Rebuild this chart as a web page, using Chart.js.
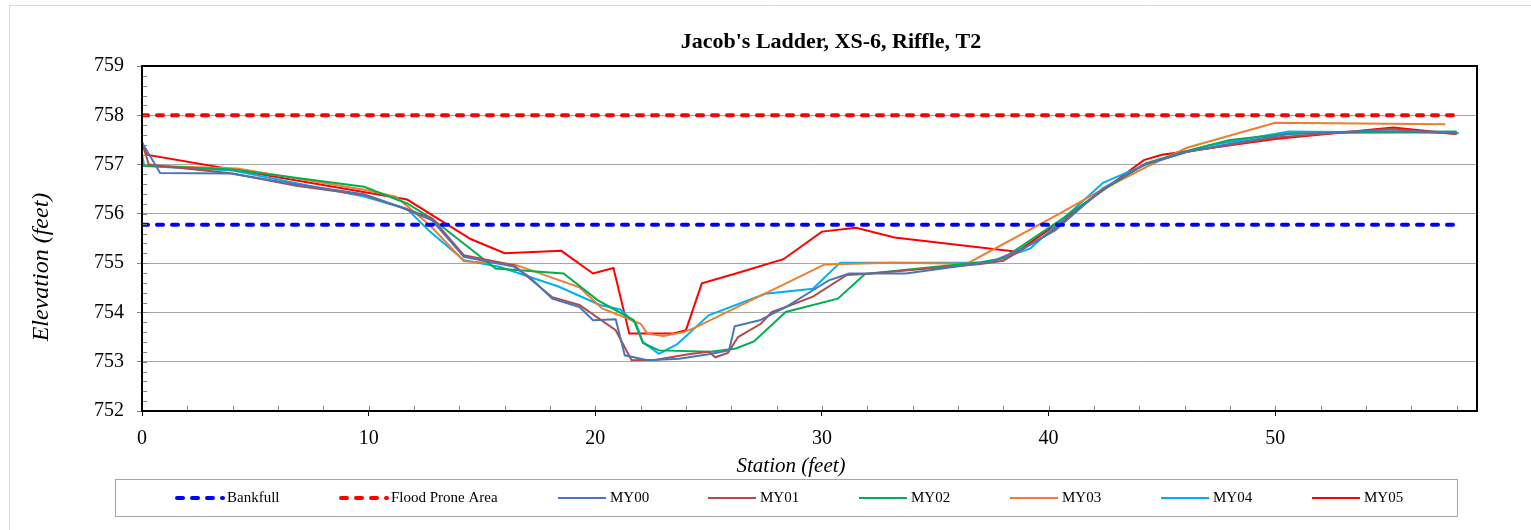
<!DOCTYPE html>
<html lang="en">
<head>
<meta charset="UTF-8">
<title>Jacob's Ladder, XS-6, Riffle, T2</title>
<script src="https://cdn.jsdelivr.net/npm/chart.js"></script>
<style>
  html, body { margin: 0; padding: 0; background: #fff; }
  #wrap { position: relative; width: 1531px; height: 530px; }
</style>
</head>
<body>
<div id="wrap"><canvas id="xsChart" width="1531" height="530"></canvas></div>
<script>
// Reference lines
const refSta = [0, 58.1];
const bankfullElev = [755.78, 755.78];
const floodElev = [758.0, 758.0];

// Survey years (station ft, elevation ft)
const my00Sta  = [0, 0.8, 3.9, 6.5, 9.8, 11.4, 12.8, 14.2, 16.4, 17.1, 18.1, 19.3, 19.9, 20.9, 21.3, 22.3, 23.7, 25.0, 25.9, 26.15, 27.25, 28.4, 29.6, 30.3, 31.2, 33.7, 37.0, 37.5, 39.0, 40.3, 42.4, 44.2, 46.0, 48.3, 50.6, 54.0, 58.0];
const my00Elev = [757.45, 756.83, 756.82, 756.62, 756.4, 756.14, 755.87, 755.13, 754.93, 754.72, 754.28, 754.11, 753.84, 753.86, 753.13, 753.03, 753.06, 753.15, 753.23, 753.72, 753.84, 754.11, 754.45, 754.65, 754.79, 754.79, 755.0, 755.03, 755.33, 755.67, 756.52, 756.99, 757.25, 757.45, 757.62, 757.68, 757.66];

const my01Sta  = [0, 0.3, 4.0, 6.8, 9.8, 11.4, 12.8, 14.2, 16.4, 18.1, 19.3, 20.9, 21.6, 22.7, 24.1, 25.0, 25.3, 25.85, 26.3, 27.3, 27.8, 28.4, 29.6, 31.1, 31.9, 37.0, 38.0, 40.0, 42.4, 44.2, 46.0, 50.0, 55.0, 58.0];
const my01Elev = [757.45, 757.0, 756.82, 756.57, 756.38, 756.14, 755.91, 755.16, 754.96, 754.31, 754.15, 753.64, 753.03, 753.04, 753.15, 753.2, 753.09, 753.18, 753.5, 753.77, 754.01, 754.11, 754.32, 754.76, 754.78, 754.98, 755.05, 755.6, 756.5, 757.0, 757.25, 757.55, 757.72, 757.62];

const my02Sta  = [0, 4.0, 9.8, 11.7, 12.8, 15.6, 18.6, 20.1, 21.7, 22.1, 22.8, 25.1, 26.2, 27.0, 28.4, 30.7, 31.9, 37.0, 38.0, 40.5, 42.4, 44.3, 46.3, 48.0, 50.6, 58.0];
const my02Elev = [756.98, 756.9, 756.55, 756.21, 755.9, 754.89, 754.79, 754.25, 753.84, 753.38, 753.23, 753.2, 753.27, 753.41, 754.01, 754.28, 754.78, 755.02, 755.1, 755.87, 756.48, 757.03, 757.3, 757.5, 757.63, 757.67];

const my03Sta  = [0, 4.2, 9.8, 11.2, 12.7, 14.2, 16.4, 19.3, 20.3, 22.0, 22.3, 23.0, 23.9, 24.4, 30.1, 33.1, 36.4, 40.5, 42.2, 44.3, 46.1, 50.0, 57.5];
const my03Elev = [756.98, 756.92, 756.49, 756.35, 755.77, 755.04, 754.98, 754.51, 754.08, 753.77, 753.57, 753.52, 753.6, 753.69, 754.97, 755.01, 754.99, 756.01, 756.45, 756.95, 757.34, 757.85, 757.82];

const my04Sta  = [0, 0.1, 4.0, 9.8, 11.7, 12.7, 14.2, 15.8, 18.4, 20.2, 21.1, 21.8, 22.1, 22.8, 23.6, 25.0, 27.5, 29.6, 30.8, 37.0, 37.5, 39.2, 42.4, 43.0, 44.3, 47.0, 50.6, 58.1];
const my04Elev = [757.2, 756.97, 756.88, 756.35, 756.1, 755.64, 755.06, 754.92, 754.52, 754.15, 754.06, 753.77, 753.4, 753.16, 753.35, 753.94, 754.38, 754.48, 755.01, 755.01, 755.03, 755.3, 756.63, 756.75, 757.0, 757.38, 757.67, 757.64];

const my05Sta  = [0, 0.2, 11.7, 14.5, 16.0, 18.5, 19.9, 20.8, 21.5, 23.4, 24.0, 24.7, 26.2, 28.3, 30.0, 31.5, 33.2, 38.6, 40.3, 42.4, 44.2, 45.0, 50.0, 55.2, 58.0];
const my05Elev = [757.45, 757.2, 756.29, 755.49, 755.2, 755.25, 754.79, 754.9, 753.57, 753.57, 753.64, 754.59, 754.79, 755.08, 755.64, 755.72, 755.52, 755.23, 755.77, 756.48, 757.09, 757.2, 757.52, 757.75, 757.62];

const xTicks = [0, 10, 20, 30, 40, 50];
const yTicks = [752, 753, 754, 755, 756, 757, 758, 759];

const serif = '"Times New Roman", "Liberation Serif", serif';

function pts(sta, elev) {
  return sta.map((s, i) => ({ x: s, y: elev[i] }));
}

function refLine(label, elev, color) {
  return {
    label: label, data: pts(refSta, elev), borderColor: color, backgroundColor: color,
    borderWidth: 4, borderDash: [6, 9], borderCapStyle: 'round', pointRadius: 0, tension: 0
  };
}
function survey(label, sta, elev, color) {
  return {
    label: label, data: pts(sta, elev), borderColor: color, backgroundColor: color,
    borderWidth: 2, pointRadius: 0, tension: 0
  };
}

// frame, minor ticks, titles and legend box
const decor = {
  id: 'decor',
  beforeDraw(chart) {
    const c = chart.ctx;
    c.save();
    c.fillStyle = '#fff';
    c.fillRect(0, 0, chart.width, chart.height);
    c.strokeStyle = '#d9d9d9';
    c.lineWidth = 1;
    c.beginPath();
    c.moveTo(9.5, 530); c.lineTo(9.5, 5.5); c.lineTo(1531, 5.5);
    c.stroke();
    c.restore();
  },
  afterDraw(chart) {
    const c = chart.ctx, a = chart.chartArea;
    const xs = chart.scales.x, ys = chart.scales.y;
    c.save();
    // minor ticks inside the plot
    c.strokeStyle = '#808080';
    c.lineWidth = 1;
    c.beginPath();
    for (let v = 752.2; v < 759; v += 0.2) {
      const y = Math.round(ys.getPixelForValue(v)) + 0.5;
      c.moveTo(a.left, y); c.lineTo(a.left + 5, y);
    }
    for (let v = 2; v < 59; v += 2) {
      const x = Math.round(xs.getPixelForValue(v)) + 0.5;
      c.moveTo(x, a.bottom); c.lineTo(x, a.bottom - 5);
    }
    c.stroke();
    // plot border
    c.strokeStyle = '#000';
    c.lineWidth = 2;
    c.strokeRect(a.left, a.top, a.right - a.left, a.bottom - a.top);

    // titles
    c.fillStyle = '#000';
    c.textAlign = 'center';
    c.textBaseline = 'middle';
    c.font = 'bold 22px ' + serif;
    c.fillText("Jacob's Ladder, XS-6, Riffle, T2", 831, 42);
    c.font = 'italic 21px ' + serif;
    c.fillText('Station (feet)', 791, 466);
    c.translate(42, 267);
    c.rotate(-Math.PI / 2);
    c.font = 'italic 24px ' + serif;
    c.fillText('Elevation (feet)', 0, 0);
    c.restore();

    // legend
    c.save();
    c.strokeStyle = '#a6a6a6';
    c.lineWidth = 1;
    c.strokeRect(115.5, 479.5, 1342, 37);
    const starts = [175, 339, 558, 708, 859, 1010, 1161, 1312];
    c.font = '15px ' + serif;
    c.textAlign = 'left';
    c.textBaseline = 'middle';
    chart.data.datasets.forEach((ds, i) => {
      const x0 = starts[i], y = 498;
      c.save();
      c.strokeStyle = ds.borderColor;
      c.lineWidth = ds.borderWidth;
      c.lineCap = ds.borderCapStyle || 'butt';
      c.setLineDash(ds.borderDash || []);
      c.beginPath();
      if (ds.borderDash) { c.moveTo(x0 + 2, y); c.lineTo(x0 + 48, y); }
      else { c.moveTo(x0, y); c.lineTo(x0 + 48, y); }
      c.stroke();
      c.restore();
      c.fillStyle = '#000';
      c.fillText(ds.label, x0 + 52, y);
    });
    c.restore();
  }
};

new Chart(document.getElementById('xsChart'), {
  type: 'line',
  data: {
    datasets: [
      refLine('Bankfull', bankfullElev, '#0000ff'),
      refLine('Flood Prone Area', floodElev, '#ff0000'),
      survey('MY00', my00Sta, my00Elev, '#4a76b8'),
      survey('MY01', my01Sta, my01Elev, '#b34c48'),
      survey('MY02', my02Sta, my02Elev, '#00b050'),
      survey('MY03', my03Sta, my03Elev, '#ed7d31'),
      survey('MY04', my04Sta, my04Elev, '#00b0f0'),
      survey('MY05', my05Sta, my05Elev, '#ff0000')
    ]
  },
  options: {
    responsive: false,
    animation: false,
    layout: { padding: { left: 0, top: 66, right: 54, bottom: 79 } },
    plugins: { legend: { display: false }, title: { display: false }, tooltip: { enabled: false } },
    scales: {
      x: {
        type: 'linear', min: 0, max: 58.9,
        afterBuildTicks: s => { s.ticks = xTicks.map(v => ({ value: v })); },
        afterFit: s => { s.height = 40; },
        border: { display: false },
        grid: { drawOnChartArea: false, drawTicks: true, tickLength: 5, tickColor: '#000' },
        ticks: { color: '#000', font: { family: serif, size: 20 }, padding: 11, maxRotation: 0 }
      },
      y: {
        min: 752, max: 759,
        afterBuildTicks: s => { s.ticks = yTicks.map(v => ({ value: v })); },
        afterFit: s => { s.width = 142; },
        border: { display: false },
        grid: { color: '#a6a6a6', lineWidth: 1, drawTicks: true, tickLength: 5, tickColor: '#808080' },
        ticks: { color: '#000', font: { family: serif, size: 20 }, padding: 13 }
      }
    }
  },
  plugins: [decor]
});
</script>
</body>
</html>
